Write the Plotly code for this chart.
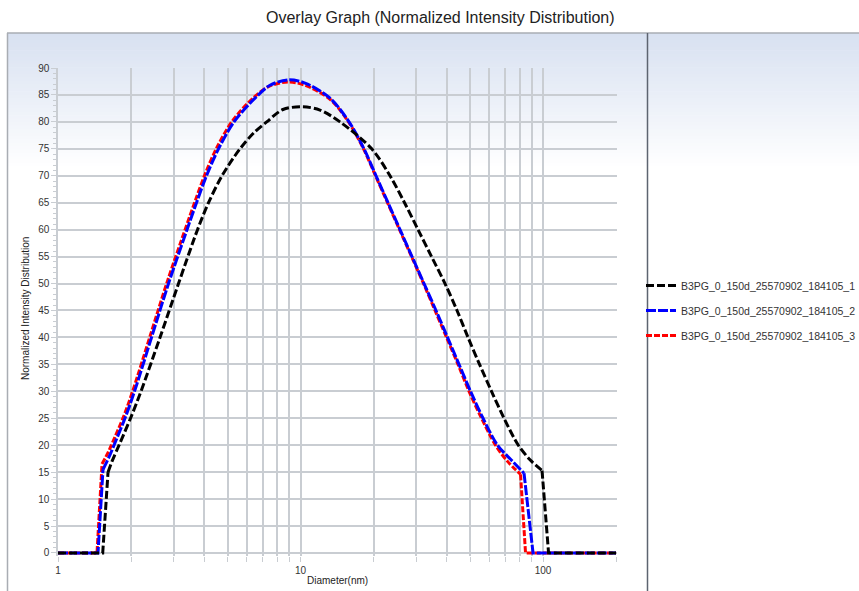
import plotly.graph_objects as go

# Normalized intensity distributions (diameter in nm, intensity)
run1_d = [1.0, 1.529, 1.608, 1.670, 1.785, 1.991, 2.199, 2.634, 3.140, 3.761, 4.175, 4.746, 5.630,
          6.431, 7.255, 8.469, 10.24, 12.03, 14.55, 19.66, 23.39, 26.85, 30.52, 34.69, 39.43,
          44.19, 49.06, 54.72, 61.32, 69.06, 79.09, 88.39, 99.06, 105.4, 200.0]
run1_i = [0, 0, 15.0, 17.0, 20.0, 25.0, 30.0, 40.0, 50.0, 60.0, 65.0, 70.0, 75.0,
          78.0, 80.0, 82.3, 82.8, 82.2, 80.0, 75.0, 70.0, 65.0, 60.0, 55.0, 50.0,
          45.0, 40.0, 35.0, 30.0, 25.0, 20.0, 17.3, 15.3, 0, 0]

run2_d = [1.0, 1.462, 1.533, 1.631, 1.702, 1.889, 2.068, 2.430, 2.856, 3.404, 3.725, 4.096, 4.590,
          5.318, 6.492, 7.486, 8.881, 10.44, 13.23, 15.85, 18.27, 20.48, 22.95, 25.72, 28.82,
          32.31, 36.20, 40.38, 45.04, 50.24, 56.57, 64.92, 73.79, 83.49, 90.94, 200.0]
run2_i = [0, 0, 15.5, 18.0, 20.0, 25.0, 30.0, 40.0, 50.0, 60.0, 65.0, 70.0, 75.0,
          80.0, 84.4, 86.8, 87.8, 87.2, 84.4, 80.0, 75.0, 70.0, 65.0, 60.0, 55.0,
          50.0, 45.0, 40.0, 35.0, 30.0, 25.0, 20.0, 17.3, 14.8, 0, 0]

run3_d = [1.0, 1.448, 1.519, 1.615, 1.678, 1.871, 2.048, 2.407, 2.829, 3.372, 3.690, 4.057, 4.526,
          5.243, 6.401, 7.415, 8.881, 10.44, 13.23, 15.77, 18.19, 20.38, 22.84, 25.60, 28.69,
          32.15, 35.86, 40.00, 44.61, 49.53, 55.77, 63.70, 71.38, 80.77, 84.69, 200.0]
run3_i = [0, 0, 16.5, 18.8, 20.5, 25.5, 30.5, 40.5, 50.5, 60.5, 65.5, 70.5, 75.3,
          80.2, 84.5, 86.6, 87.4, 86.8, 84.2, 80.0, 75.0, 70.0, 65.0, 60.0, 55.0,
          50.0, 45.0, 40.0, 35.0, 30.0, 25.0, 20.0, 17.0, 14.6, 0, 0]

names = ["B3PG_0_150d_25570902_184105_1",
         "B3PG_0_150d_25570902_184105_2",
         "B3PG_0_150d_25570902_184105_3"]

x_major = [1, 10, 100]
x_minor = [2, 3, 4, 5, 6, 7, 8, 9, 20, 30, 40, 50, 60, 70, 80, 90, 200]

W, H = 859, 591
L, R, T, B = 58, 242, 68, 35
PW, PH = W - L - R, H - T - B


def px(x):
    return (x - L) / PW


def py(y):
    return (H - B - y) / PH


fig = go.Figure()


def add_run(d, v, name, color, dash, rank, group):
    # straight baseline and sharp cut-offs at both ends, smooth spline for the hump
    style = dict(color=color, width=3, dash=dash)
    fig.add_trace(go.Scatter(x=d[:3] + [None] + d[-3:], y=v[:3] + [None] + v[-3:],
                             mode="lines", line=dict(shape="linear", **style),
                             legendgroup=group, showlegend=False, hoverinfo="skip"))
    fig.add_trace(go.Scatter(x=d[2:-2], y=v[2:-2], name=name, mode="lines",
                             line=dict(shape="spline", smoothing=0.9, **style),
                             legendgroup=group, legendrank=rank))


# red drawn first so blue and black sit on top of it
add_run(run3_d, run3_i, names[2], "#ff0000", "6px,2px", 3, "c")
add_run(run2_d, run2_i, names[1], "#0000ff", "10px,2px", 2, "b")
add_run(run1_d, run1_i, names[0], "#000000", "8px,3px", 1, "a")

grid = "#c9cdd2"
font = "Liberation Sans"

shapes = []
# soft blue gradient along the top of both panels
top, bottom, n = 33, 170, 40
c0, c1 = (216, 225, 241), (255, 255, 255)
for k in range(n):
    t = k / (n - 1)
    col = tuple(round(c0[j] + (c1[j] - c0[j]) * t) for j in range(3))
    y0 = top + (bottom - top) * k / n
    y1 = top + (bottom - top) * (k + 1) / n + 0.6
    shapes.append(dict(type="rect", xref="paper", yref="paper",
                       x0=px(7), x1=px(W + 2), y0=py(y1), y1=py(y0),
                       fillcolor="rgb(%d,%d,%d)" % col, line=dict(width=0), layer="below"))
# panel frame
shapes.append(dict(type="line", xref="paper", yref="paper", x0=px(7), x1=px(W + 2),
                   y0=py(33), y1=py(33), line=dict(color="#a9adb3", width=1.5)))
shapes.append(dict(type="line", xref="paper", yref="paper", x0=px(7.5), x1=px(7.5),
                   y0=py(33), y1=py(H + 2), line=dict(color="#a9adb3", width=1.5)))
shapes.append(dict(type="line", xref="paper", yref="paper", x0=px(647.5), x1=px(647.5),
                   y0=py(33), y1=py(H + 2), line=dict(color="#5d6470", width=1.5)))

fig.update_layout(
    width=W, height=H,
    margin=dict(l=L, r=R, t=T, b=B),
    paper_bgcolor="white", plot_bgcolor="rgba(0,0,0,0)",
    shapes=shapes,
    showlegend=True,
    legend=dict(xref="container", yref="container", x=641 / W, y=1 - 271 / H,
                xanchor="left", yanchor="top",
                traceorder="grouped", bgcolor="rgba(0,0,0,0)",
                font=dict(family=font, size=10.5, color="#333"),
                itemwidth=30, tracegroupgap=6),
    annotations=[
        dict(text="Overlay Graph (Normalized Intensity Distribution)", xref="paper", yref="paper",
             x=px(440), y=py(18), xanchor="center", yanchor="middle", showarrow=False,
             font=dict(family=font, size=16, color="#222")),
        dict(text="Normalized Intensity Distribution", xref="paper", yref="paper",
             x=px(25), y=py(309), xanchor="center", yanchor="middle", textangle=-90,
             showarrow=False, font=dict(family=font, size=10, color="#222")),
        dict(text="Diameter(nm)", xref="paper", yref="paper",
             x=px(337), y=py(580), xanchor="center", yanchor="middle", showarrow=False,
             font=dict(family=font, size=10, color="#222")),
    ],
)

fig.update_xaxes(type="log", range=[0, 2.305], tickvals=x_major, ticktext=["1", "10", "100"],
                 ticks="outside", ticklen=5, tickcolor=grid, showgrid=True, gridcolor=grid,
                 gridwidth=1.5, zeroline=False, showline=False,
                 tickfont=dict(family=font, size=10, color="#333"),
                 minor=dict(tickvals=x_minor, showgrid=True, gridcolor=grid, gridwidth=1.5,
                            ticks="outside", ticklen=5, tickcolor=grid))
fig.update_yaxes(range=[-0.56, 90], tickvals=list(range(0, 91, 5)),
                 ticks="outside", ticklen=5, tickcolor=grid,
                 showgrid=True, gridcolor=grid, gridwidth=1.5, zeroline=False,
                 showline=True, linecolor=grid, linewidth=1.5,
                 tickfont=dict(family=font, size=10, color="#333"),
                 minor=dict(tickvals=list(range(0, 91)), ticks="outside", ticklen=3,
                            tickcolor=grid, showgrid=False))

fig.write_html("out.html")
